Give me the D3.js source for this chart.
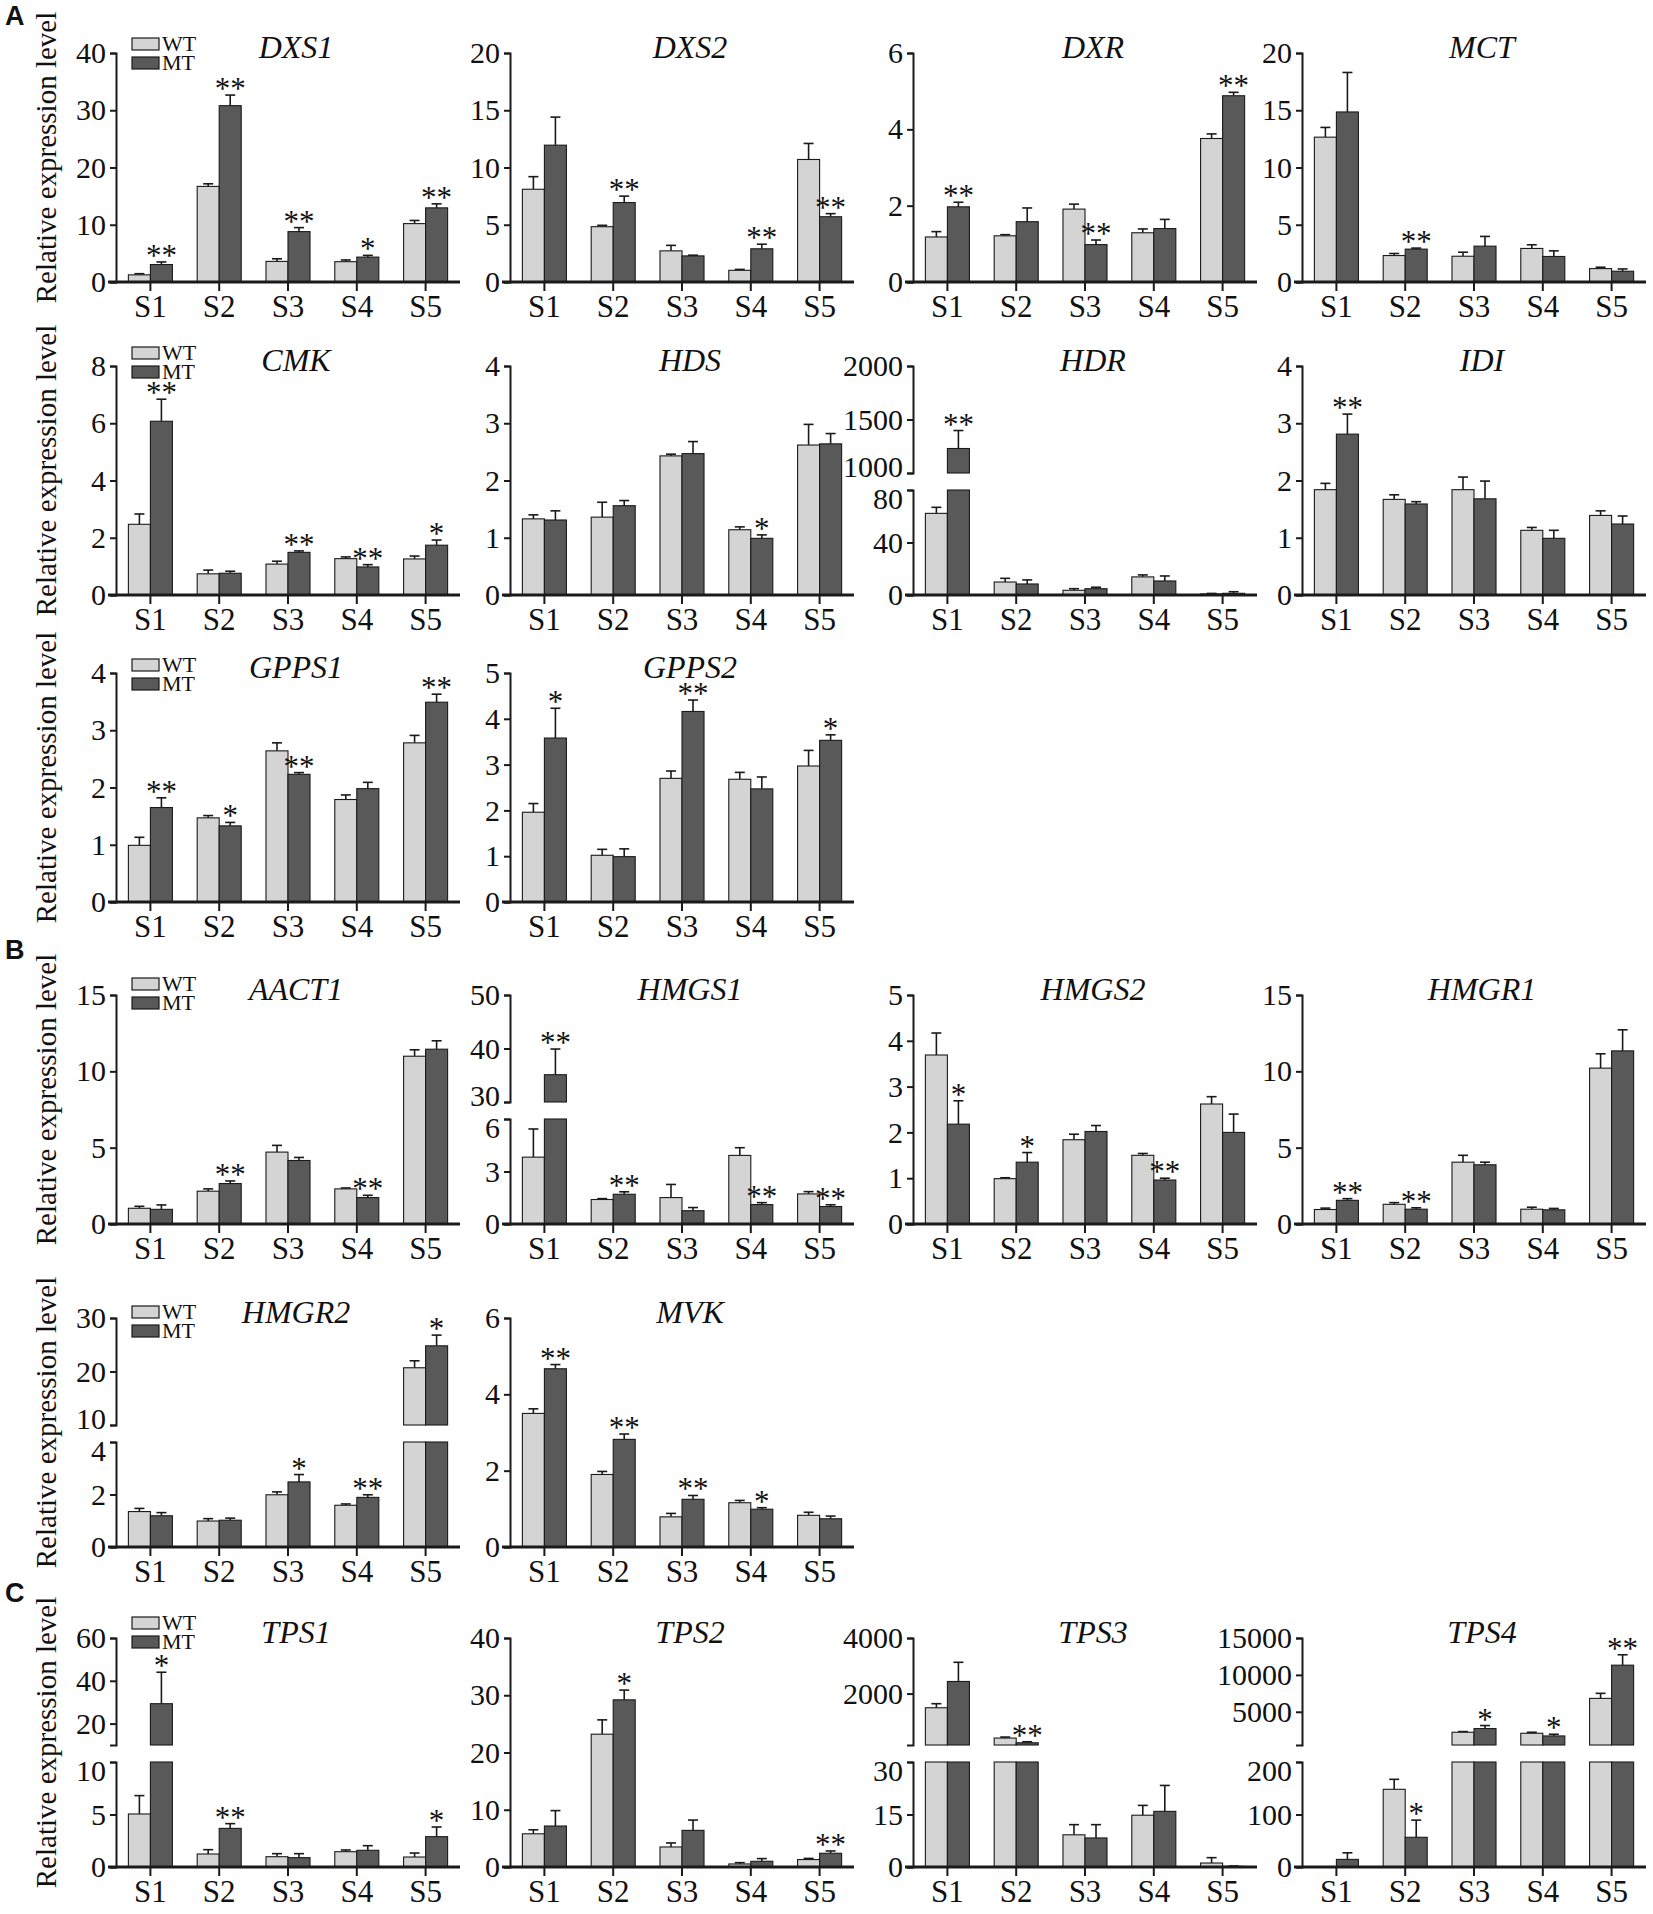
<!DOCTYPE html>
<html>
<head>
<meta charset="utf-8">
<script src="https://cdn.jsdelivr.net/npm/d3@7"></script>
<style>
  body { margin: 0; background: #fff; }
  text { font-family: "Liberation Serif", "Times New Roman", serif; fill: #111; }
  text.section { font-family: "Liberation Sans", Arial, sans-serif; font-weight: bold; }
</style>
</head>
<body>
<svg id="fig"></svg>
<script>
// ---- data ----
var stages = ["S1", "S2", "S3", "S4", "S5"];
var genes = ["DXS1", "DXS2", "DXR", "MCT", "CMK", "HDS", "HDR", "IDI", "GPPS1", "GPPS2",
             "AACT1", "HMGS1", "HMGS2", "HMGR1", "HMGR2", "MVK", "TPS1", "TPS2", "TPS3", "TPS4"];

var wtMean = [
  [1.25, 16.7, 3.6, 3.55, 10.2], [8.1, 4.83, 2.72, 1.02, 10.7], [1.18, 1.21, 1.91, 1.29, 3.76],
  [12.65, 2.31, 2.25, 2.93, 1.17], [2.47, 0.74, 1.08, 1.27, 1.26], [1.33, 1.36, 2.43, 1.14, 2.62],
  [62.2, 9.9, 3.6, 13.8, 0.8], [1.84, 1.67, 1.84, 1.13, 1.39], [0.99, 1.47, 2.64, 1.79, 2.78],
  [1.96, 1.02, 2.7, 2.68, 2.97], [1.03, 2.15, 4.71, 2.3, 10.99], [3.82, 1.4, 1.51, 3.92, 1.72],
  [3.69, 0.99, 1.84, 1.5, 2.62], [0.95, 1.29, 4.05, 0.97, 10.21], [1.35, 0.99, 1.99, 1.59, 20.7],
  [3.5, 1.9, 0.79, 1.16, 0.83], [5.05, 1.24, 0.98, 1.46, 0.95], [5.8, 23.2, 3.5, 0.53, 1.3],
  [1490, 400, 9.2, 14.8, 1.14], [0.3, 148, 2227, 2090, 6818]
];
var wtErr = [
  [0.2, 0.45, 0.45, 0.3, 0.55], [1.1, 0.12, 0.48, 0.08, 1.4], [0.14, 0.03, 0.13, 0.1, 0.12],
  [0.85, 0.18, 0.35, 0.32, 0.12], [0.36, 0.13, 0.1, 0.06, 0.1], [0.07, 0.26, 0.03, 0.05, 0.36],
  [4.6, 2.8, 1.2, 1.5, 0.4], [0.11, 0.08, 0.22, 0.05, 0.08], [0.14, 0.04, 0.14, 0.08, 0.13],
  [0.19, 0.13, 0.16, 0.15, 0.34], [0.13, 0.15, 0.44, 0.06, 0.42], [1.61, 0.05, 0.75, 0.44, 0.13],
  [0.48, 0.02, 0.12, 0.04, 0.16], [0.09, 0.11, 0.45, 0.13, 0.94], [0.12, 0.09, 0.11, 0.05, 1.3],
  [0.12, 0.08, 0.09, 0.06, 0.08], [1.75, 0.41, 0.29, 0.16, 0.38], [0.7, 2.5, 0.7, 0.23, 0.2],
  [146, 36, 2.9, 2.8, 1.53], [0, 19, 91, 137, 682]
];
var mtMean = [
  [3.05, 30.8, 8.8, 4.35, 12.95], [11.95, 6.94, 2.28, 2.9, 5.7], [1.97, 1.58, 0.98, 1.4, 4.88],
  [14.85, 2.87, 3.13, 2.23, 0.94], [6.07, 0.76, 1.49, 0.98, 1.74], [1.31, 1.56, 2.47, 0.99, 2.64],
  [1229, 8.4, 4.8, 10.7, 1.3], [2.81, 1.59, 1.68, 0.99, 1.24], [1.65, 1.33, 2.23, 1.98, 3.49],
  [3.58, 0.99, 4.16, 2.47, 3.53], [0.96, 2.65, 4.16, 1.73, 11.45], [35.1, 1.7, 0.76, 1.11, 1.0],
  [2.18, 1.35, 2.02, 0.96, 2.0], [1.55, 0.97, 3.88, 0.93, 11.34], [1.19, 1.02, 2.48, 1.89, 24.8],
  [4.67, 2.82, 1.25, 0.99, 0.74], [29.3, 3.68, 0.89, 1.59, 2.89], [7.16, 29.2, 6.4, 1.0, 2.4],
  [2436, 230, 8.3, 15.9, 0.19], [14.5, 56.6, 2727, 1727, 11318]
];
var mtErr = [
  [0.45, 1.85, 0.7, 0.3, 0.7], [2.45, 0.56, 0.06, 0.4, 0.27], [0.12, 0.36, 0.12, 0.24, 0.09],
  [3.45, 0.09, 0.85, 0.49, 0.2], [0.77, 0.07, 0.05, 0.08, 0.18], [0.16, 0.09, 0.21, 0.06, 0.18],
  [168, 3.1, 1.1, 3.8, 1.2], [0.35, 0.04, 0.31, 0.14, 0.14], [0.17, 0.06, 0.03, 0.11, 0.14],
  [0.65, 0.17, 0.25, 0.26, 0.12], [0.29, 0.17, 0.2, 0.15, 0.55], [4.8, 0.14, 0.18, 0.11, 0.1],
  [0.51, 0.21, 0.13, 0.04, 0.4], [0.11, 0.09, 0.17, 0.09, 1.38], [0.12, 0.08, 0.28, 0.1, 2.0],
  [0.11, 0.14, 0.1, 0.04, 0.07], [14.7, 0.45, 0.38, 0.44, 0.92], [2.69, 1.7, 1.8, 0.47, 0.4],
  [690, 37, 3.8, 7.4, 0.1], [12.5, 32.7, 409, 228, 1409]
];
var stars = [
  ["**", "**", "**", "*", "**"], ["", "**", "", "**", "**"], ["**", "", "**", "", "**"],
  ["", "**", "", "", ""], ["**", "", "**", "**", "*"], ["", "", "", "*", ""],
  ["**", "", "", "", ""], ["**", "", "", "", ""], ["**", "*", "**", "", "**"],
  ["*", "", "**", "", "*"], ["", "**", "", "**", ""], ["**", "**", "", "**", "**"],
  ["*", "*", "", "**", ""], ["**", "**", "", "", ""], ["", "", "*", "**", "*"],
  ["**", "**", "**", "*", ""], ["*", "**", "", "", "*"], ["", "*", "", "", "**"],
  ["", "**", "", "", ""], ["", "*", "*", "*", "**"]
];
// y ticks (lower segment when the axis is broken)
var yTicks = [
  [0, 10, 20, 30, 40], [0, 5, 10, 15, 20], [0, 2, 4, 6], [0, 5, 10, 15, 20],
  [0, 2, 4, 6, 8], [0, 1, 2, 3, 4], [0, 40, 80], [0, 1, 2, 3, 4],
  [0, 1, 2, 3, 4], [0, 1, 2, 3, 4, 5],
  [0, 5, 10, 15], [0, 3, 6], [0, 1, 2, 3, 4, 5], [0, 5, 10, 15],
  [0, 2, 4], [0, 2, 4, 6],
  [0, 5, 10], [0, 10, 20, 30, 40], [0, 15, 30], [0, 100, 200]
];
// upper segment ticks of broken axes, and the value at the bottom of that segment
var yHigh = [null, null, null, null, null, null, [1000, 1500, 2000], null, null, null,
             null, [30, 40, 50], null, null, [10, 20, 30], null,
             [20, 40, 60], null, [2000, 4000], [5000, 10000, 15000]];
var yHighMin = [null, null, null, null, null, null, 1000, null, null, null,
                null, 30, null, null, 10, null, 10, null, 150, 500];

var panelRow = [0, 0, 0, 0, 1, 1, 1, 1, 2, 2, 3, 3, 3, 3, 4, 4, 5, 5, 5, 5];
var panelCol = [0, 1, 2, 3, 0, 1, 2, 3, 0, 1, 0, 1, 2, 3, 0, 1, 0, 1, 2, 3];
var sectionLabels = ["A", "B", "C"];

// ---- layout ----
var rowTop = [53, 366, 673, 995, 1318, 1638];
var colX = [116, 510, 913, 1302];
var legendDy = [-15, -19, -14, -17, -12, -21];
var sectionY = [25, 959, 1602];
var plotW = 344, plotH = 229, lowH = 105, gapH = 17;
var wtFill = "#d4d4d4", mtFill = "#595959", ink = "#1a1a1a";

var svg = d3.select("#fig").attr("width", 1653).attr("height", 1914);

var x = d3.scaleBand().domain(stages).range([0, plotW]).paddingInner(0.36).paddingOuter(0.18);
var xs = d3.scaleBand().domain(["WT", "MT"]).range([0, x.bandwidth()]);

function styleAxis(sel, fs) {
    sel.select(".domain").attr("stroke", ink).attr("stroke-width", 2);
    sel.selectAll(".tick line").attr("stroke", ink).attr("stroke-width", 2);
    sel.selectAll(".tick text").attr("font-size", fs).attr("fill", "#111");
}

genes.forEach(function (gene, i) {
    var r = panelRow[i], c = panelCol[i];
    var g = svg.append("g").attr("transform", "translate(" + colX[c] + "," + rowTop[r] + ")");
    var broken = yHigh[i] !== null;
    var lowMax = d3.max(yTicks[i]);
    var yLow = d3.scaleLinear().domain([0, lowMax]).range(broken ? [plotH, plotH - lowH] : [plotH, 0]);
    var yUp = broken ? d3.scaleLinear().domain([yHighMin[i], d3.max(yHigh[i])]).range([plotH - lowH - gapH, 0]) : null;
    function yPos(v) { return (!broken || v <= lowMax) ? yLow(v) : yUp(v); }

    // bars (split in two pieces when they cross the break)
    var bars = [], errs = [];
    stages.forEach(function (s, k) {
        [["WT", wtMean[i][k], wtErr[i][k], wtFill], ["MT", mtMean[i][k], mtErr[i][k], mtFill]].forEach(function (b) {
            var bx = x(s) + xs(b[0]);
            if (!broken || b[1] <= lowMax) {
                bars.push({x: bx, y0: yLow(0), y1: yLow(b[1]), fill: b[3]});
            } else {
                bars.push({x: bx, y0: yLow(0), y1: yLow(lowMax), fill: b[3]});
                bars.push({x: bx, y0: yUp(yHighMin[i]), y1: yUp(b[1]), fill: b[3]});
            }
            errs.push({cx: bx + xs.bandwidth() / 2, y0: yPos(b[1]), y1: yPos(b[1] + b[2]), series: b[0], star: stars[i][k]});
        });
    });

    g.selectAll(".err").data(errs).enter().append("line")
        .attr("x1", function (d) { return d.cx; }).attr("x2", function (d) { return d.cx; })
        .attr("y1", function (d) { return d.y0; }).attr("y2", function (d) { return d.y1; })
        .attr("stroke", ink).attr("stroke-width", 1.6);
    g.selectAll(".cap").data(errs).enter().append("line")
        .attr("x1", function (d) { return d.cx - 5; }).attr("x2", function (d) { return d.cx + 5; })
        .attr("y1", function (d) { return d.y1; }).attr("y2", function (d) { return d.y1; })
        .attr("stroke", ink).attr("stroke-width", 1.6);

    g.selectAll(".bar").data(bars).enter().append("rect")
        .attr("x", function (d) { return d.x; })
        .attr("y", function (d) { return d.y1; })
        .attr("width", xs.bandwidth())
        .attr("height", function (d) { return Math.max(0, d.y0 - d.y1); })
        .attr("fill", function (d) { return d.fill; })
        .attr("stroke", ink).attr("stroke-width", 1.1);

    g.selectAll(".star").data(errs.filter(function (d) { return d.series === "MT" && d.star; }))
        .enter().append("text")
        .attr("x", function (d) { return d.cx; })
        .attr("y", function (d) { return d.y1 + 4; })
        .attr("text-anchor", "middle").attr("font-size", 31)
        .text(function (d) { return d.star; });

    // y axis
    var fmt = function (d) { return String(d); };
    var ya = g.append("g").call(d3.axisLeft(yLow).tickValues(yTicks[i]).tickFormat(fmt)
        .tickSize(6).tickSizeOuter(6).tickPadding(4));
    styleAxis(ya, 30);
    if (broken) {
        var yb = g.append("g").call(d3.axisLeft(yUp).tickValues(yHigh[i]).tickFormat(fmt)
            .tickSize(6).tickSizeOuter(6).tickPadding(4));
        styleAxis(yb, 30);
        // labels next to the break are pushed apart, as in the original
        ya.selectAll(".tick").filter(function (d) { return d === lowMax; })
            .select("text").attr("dy", "0.62em");
        yb.selectAll(".tick").filter(function (d) { return d === yHighMin[i]; })
            .select("text").attr("dy", "0.12em");
    }

    // x axis
    g.append("line").attr("x1", -8).attr("x2", plotW).attr("y1", plotH).attr("y2", plotH)
        .attr("stroke", ink).attr("stroke-width", 3);
    var xa = g.append("g").attr("transform", "translate(0," + plotH + ")")
        .call(d3.axisBottom(x).tickSize(9).tickPadding(4));
    xa.select(".domain").remove();
    styleAxis(xa, 31);

    // gene name
    g.append("text").attr("x", 180).attr("y", 5)
        .attr("text-anchor", "middle").attr("font-size", 32).attr("font-style", "italic")
        .text(gene);

    // first column: legend + y label
    if (c === 0) {
        var lg = g.append("g").attr("transform", "translate(16," + legendDy[r] + ")");
        [["WT", wtFill], ["MT", mtFill]].forEach(function (d, j) {
            lg.append("rect").attr("x", 0).attr("y", j * 19).attr("width", 27).attr("height", 12)
                .attr("fill", d[1]).attr("stroke", ink).attr("stroke-width", 1.2);
            lg.append("text").attr("x", 30).attr("y", j * 19 + 13).attr("font-size", 22).text(d[0]);
        });
        svg.append("text")
            .attr("transform", "translate(56," + (rowTop[r] + plotH / 2 - 10) + ") rotate(-90)")
            .attr("text-anchor", "middle").attr("font-size", 29)
            .text("Relative expression level");
    }
});

sectionLabels.forEach(function (s, j) {
    svg.append("text").attr("class", "section").attr("x", 5).attr("y", sectionY[j])
        .attr("font-size", 27).text(s);
});
</script>
</body>
</html>
